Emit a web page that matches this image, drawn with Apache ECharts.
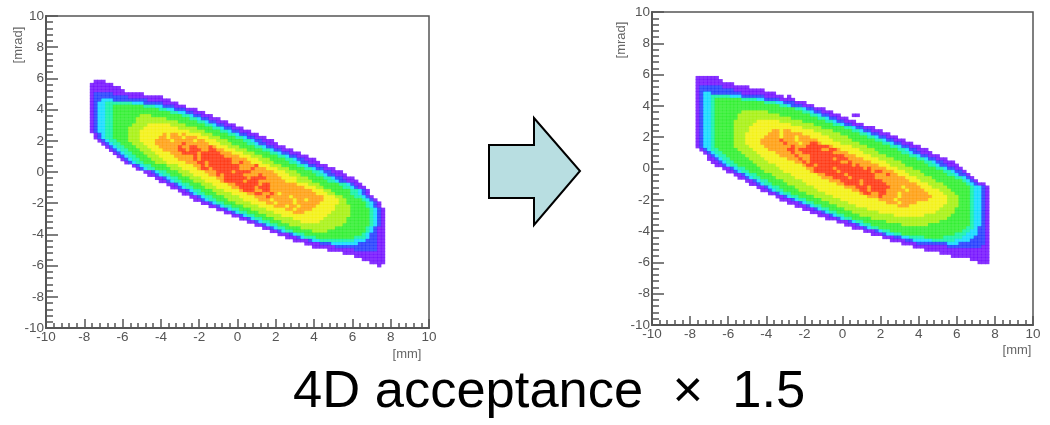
<!DOCTYPE html>
<html>
<head>
<meta charset="utf-8">
<style>
  html, body { margin: 0; padding: 0; background: #fff; }
  #chart { width: 1050px; height: 425px; filter: blur(0.6px); }
</style>
</head>
<body>
<div id="chart"></div>
<script src="https://cdn.jsdelivr.net/npm/echarts@6/dist/echarts.min.js"></script>
<script>
// histogram bins, mm across and mrad down
const xBins = [-7.6,-7.4,-7.2,-7,-6.8,-6.6,-6.4,-6.2,-6,-5.8,-5.6,-5.4,-5.2,-5,-4.8,-4.6,-4.4,-4.2,-4,-3.8,-3.6,-3.4,-3.2,-3,-2.8,-2.6,-2.4,-2.2,-2,-1.8,-1.6,-1.4,-1.2,-1,-0.8,-0.6,-0.4,-0.2,0,0.2,0.4,0.6,0.8,1,1.2,1.4,1.6,1.8,2,2.2,2.4,2.6,2.8,3,3.2,3.4,3.6,3.8,4,4.2,4.4,4.6,4.8,5,5.2,5.4,5.6,5.8,6,6.2,6.4,6.6,6.8,7,7.2,7.4,7.6];
const yBins = [5.8,5.6,5.4,5.2,5,4.8,4.6,4.4,4.2,4,3.8,3.6,3.4,3.2,3,2.8,2.6,2.4,2.2,2,1.8,1.6,1.4,1.2,1,0.8,0.6,0.4,0.2,0,-0.2,-0.4,-0.6,-0.8,-1,-1.2,-1.4,-1.6,-1.8,-2,-2.2,-2.4,-2.6,-2.8,-3,-3.2,-3.4,-3.6,-3.8,-4,-4.2,-4.4,-4.6,-4.8,-5,-5.2,-5.4,-5.6,-5.8,-6];

const ticks = [-10, -8, -6, -4, -2, 0, 2, 4, 6, 8, 10];
const levelColors = ['#6a00ff', '#1430ff', '#00d8ff', '#00f0a0', '#20ee20', '#a0f000', '#f2f000', '#ff9800', '#ff2800'];

// one string per y bin, tokens are <level><count>, level 0 = empty
const rowsBefore = [
  '01 13',
  '16',
  '18',
  '19',
  '11 25 18',
  '11 29 19',
  '11 22 33 29 16',
  '11 21 32 47 33 25 14',
  '11 21 32 42 58 43 32 23 13',
  '11 21 32 42 512 42 32 23 13',
  '11 21 32 42 515 42 32 22 13',
  '11 21 32 42 57 63 58 42 31 22 13',
  '11 21 32 42 56 68 56 42 31 22 13',
  '11 21 32 42 56 611 55 42 31 22 13',
  '11 21 32 42 55 64 76 64 55 42 31 22 13',
  '11 21 32 42 54 64 79 65 54 42 31 22 13',
  '11 21 32 42 54 63 713 64 54 42 31 22 13',
  '01 11 21 31 42 54 63 76 81 71 82 71 81 74 63 54 42 31 22 13',
  '01 11 21 31 42 54 63 75 82 71 83 71 83 73 63 54 42 31 22 13',
  '02 11 21 31 42 53 63 74 84 71 85 71 82 73 63 54 42 31 22 13',
  '03 11 21 31 42 53 63 73 87 91 86 73 63 54 42 31 22 13',
  '04 11 21 31 42 53 63 73 85 91 82 92 83 91 81 73 63 54 42 31 22 13',
  '05 11 21 31 42 53 63 73 84 92 81 93 82 92 82 73 63 54 42 31 22 13',
  '06 11 21 31 42 53 63 74 83 94 81 95 83 73 63 54 42 31 22 13',
  '07 11 21 31 42 53 63 74 85 91 81 96 84 73 63 54 42 31 22 13',
  '08 11 21 31 42 53 63 74 84 91 81 98 84 73 63 54 42 31 22 13',
  '09 11 21 31 42 53 63 75 83 92 81 96 82 91 82 73 63 54 42 31 22 13',
  '011 11 21 31 42 54 63 74 82 91 81 98 84 91 73 63 54 42 31 22 13',
  '012 11 21 31 42 54 63 74 81 92 81 97 83 91 83 73 63 54 42 31 22 13',
  '014 12 21 31 42 53 63 74 83 94 81 94 86 73 63 54 42 31 22 13',
  '015 12 21 31 42 53 63 74 82 91 81 95 84 91 84 73 63 54 42 31 22 13',
  '017 12 21 31 42 53 63 74 82 96 81 94 84 74 63 54 42 31 22 13',
  '018 12 21 31 42 53 63 74 81 95 81 93 87 73 64 54 42 31 22 13',
  '020 12 21 31 42 53 63 74 82 96 81 92 87 73 63 55 42 31 21 12',
  '021 12 21 31 42 53 63 74 82 94 81 93 89 73 62 55 42 31 21 12',
  '023 12 21 31 42 53 63 74 81 93 82 92 811 73 62 55 42 31 21 11',
  '024 12 21 31 42 53 64 74 82 92 82 91 81 71 89 73 62 54 42 31 21 11',
  '026 12 21 31 42 53 64 74 83 91 85 71 88 73 62 53 42 31 21 11',
  '027 12 21 31 42 53 64 74 83 71 85 71 82 71 84 74 62 54 41 31 21 11',
  '029 12 21 31 42 53 64 74 82 71 84 71 86 75 62 55 41 31 21 11',
  '031 12 21 31 42 53 64 74 83 71 82 71 84 75 64 54 41 31 21 11',
  '033 12 21 31 42 53 64 75 82 71 84 76 64 55 41 31 21 11',
  '035 12 21 31 42 53 64 75 83 77 65 55 41 31 21 11',
  '037 12 21 31 42 53 64 712 66 55 41 31 21 11',
  '039 12 21 31 42 53 65 78 66 56 41 31 21 11',
  '041 12 21 31 42 53 65 75 67 56 41 31 21 11',
  '043 12 21 31 42 53 614 57 41 31 21 11',
  '045 12 21 31 42 54 69 58 41 31 21 12',
  '047 12 21 31 42 55 64 510 41 31 21 12',
  '049 13 21 31 42 515 41 31 22 12',
  '051 13 21 31 43 510 43 31 22 12',
  '053 14 21 32 49 33 23 12',
  '056 14 23 37 25 12',
  '058 16 211 12',
  '062 17 26 12',
  '066 111',
  '069 18',
  '071 16',
  '073 14',
  '075 11'
];

const rowsAfter = [
  '16',
  '17',
  '110',
  '11 26 17',
  '11 29 18',
  '11 21 32 28 19',
  '11 21 32 45 33 26 15 01 11',
  '11 21 32 41 57 44 32 24 14',
  '11 21 32 41 513 43 32 23 13',
  '11 21 32 41 517 42 31 23 13',
  '11 21 32 41 521 42 31 22 13',
  '11 21 32 41 57 67 59 42 31 22 13',
  '11 21 32 41 56 611 58 42 31 22 13 03 12',
  '11 21 32 41 56 614 57 42 31 22 13',
  '11 21 32 41 55 66 76 66 56 42 31 22 13',
  '11 21 32 41 55 65 710 66 55 42 31 22 13',
  '11 21 32 41 55 64 714 65 56 42 31 22 13',
  '11 21 32 41 55 64 76 82 71 82 76 65 55 42 31 22 13',
  '11 21 32 41 55 63 76 83 71 85 75 65 55 42 31 22 13',
  '11 21 32 41 55 63 75 84 71 83 71 83 75 65 55 42 31 22 13',
  '11 21 32 41 55 63 74 85 91 83 71 85 74 65 56 42 31 22 13',
  '11 21 32 41 55 63 74 86 91 83 71 82 92 81 75 65 56 42 31 22 13',
  '11 21 32 41 55 64 74 87 91 83 96 81 75 64 56 42 31 22 13',
  '01 11 21 31 42 55 64 74 85 92 81 96 82 92 81 75 64 56 42 31 22 13',
  '02 11 21 31 42 55 64 75 84 91 82 98 84 74 64 56 42 31 22 13',
  '03 11 21 31 42 55 64 75 84 91 83 99 83 74 64 56 42 31 22 13',
  '03 12 21 31 42 55 64 76 83 91 82 96 81 93 84 74 64 56 42 31 22 13',
  '04 12 21 31 42 55 64 77 82 91 81 98 82 91 85 74 64 56 42 31 22 13',
  '05 12 21 31 42 55 65 77 81 92 81 99 81 91 85 73 64 56 42 31 22 13',
  '07 12 21 31 42 54 65 77 82 95 81 97 81 91 84 73 64 56 42 31 22 12',
  '08 12 21 31 42 54 65 77 81 96 81 98 81 92 83 73 64 56 42 31 22 11',
  '010 12 21 31 42 54 65 77 82 95 81 97 83 91 82 73 64 56 42 31 22 11',
  '011 12 21 31 42 54 65 77 83 94 81 96 88 73 64 56 42 31 21 11',
  '013 12 21 31 42 54 65 77 83 95 81 95 87 73 64 57 41 31 21 11',
  '014 12 21 31 42 54 65 78 82 94 81 96 88 73 64 56 41 31 21 12',
  '016 12 21 31 42 54 65 78 83 93 81 95 83 71 84 73 64 56 41 32 21 11',
  '017 12 21 31 42 54 65 79 82 92 81 94 85 71 84 74 63 55 41 32 21 11',
  '019 12 21 31 42 54 65 79 81 92 82 92 83 71 83 84 74 63 54 41 32 21 11',
  '021 12 21 31 42 54 65 79 83 91 84 71 88 74 63 53 41 32 21 11',
  '022 13 21 31 42 54 65 710 84 71 88 75 63 53 41 32 21 11',
  '024 13 21 31 42 54 65 710 83 71 84 78 63 53 41 32 21 11',
  '026 13 21 31 42 54 65 711 83 79 64 53 41 32 21 11',
  '028 13 21 31 42 54 66 719 64 54 41 32 21 11',
  '030 13 21 31 42 54 67 715 65 54 41 32 21 11',
  '032 13 21 31 42 54 69 78 67 55 41 32 21 11',
  '034 13 21 31 42 55 620 56 41 32 21 11',
  '037 13 21 31 42 56 614 58 41 32 21 11',
  '039 13 21 31 42 58 67 511 41 32 21 11',
  '041 13 21 31 42 523 42 31 22 11',
  '044 13 21 31 42 519 42 32 22 11',
  '046 13 21 32 42 514 43 33 22 11',
  '049 13 22 32 44 55 45 33 23 11',
  '051 14 22 35 46 34 24 11',
  '054 14 28 33 27 11',
  '057 19 29 12',
  '060 117',
  '064 113',
  '067 110',
  '072 15',
  '074 13'
];

function cellsFrom(rows) {
  const cells = [];
  rows.forEach((row, r) => {
    let col = 0;
    row.split(' ').forEach(token => {
      const level = +token[0];
      const count = +token.slice(1);
      for (let i = 0; i < count; i++, col++) {
        if (level > 0) cells.push([xBins[col], yBins[r], level]);
      }
    });
  });
  return cells;
}

function xAxisFor(index) {
  return {
    type: 'value', gridIndex: index, min: -10, max: 10, interval: 2,
    axisLine: { onZero: false, lineStyle: { color: '#555', width: 2 } },
    axisTick: { inside: true, length: 9, lineStyle: { color: '#555', width: 1.5 } },
    minorTick: { show: true, splitNumber: 5, length: 5, lineStyle: { color: '#555', width: 1.5 } },
    axisLabel: { margin: 2, fontFamily: 'Liberation Sans', fontSize: 13.5, color: '#555', showMinLabel: true, showMaxLabel: true, hideOverlap: false, customValues: ticks },
    splitLine: { show: false }
  };
}

function yAxisFor(index) {
  return {
    type: 'value', gridIndex: index, min: -10, max: 10, interval: 2,
    axisLine: { onZero: false, lineStyle: { color: '#555', width: 2 } },
    axisTick: { inside: true, length: 12, lineStyle: { color: '#555', width: 1.5 } },
    minorTick: { show: true, splitNumber: 5, length: 7, lineStyle: { color: '#555', width: 1.5 } },
    axisLabel: { margin: 2, fontFamily: 'Liberation Sans', fontSize: 13.5, color: '#555', showMinLabel: true, showMaxLabel: true, hideOverlap: false, customValues: ticks },
    splitLine: { show: false }
  };
}

function histSeries(index, rows, size) {
  return {
    type: 'scatter', xAxisIndex: index, yAxisIndex: index,
    symbol: 'rect', symbolSize: size, data: cellsFrom(rows),
    large: false, progressive: 0, silent: true
  };
}

function unitLabel(text, x, y, rotation) {
  return {
    type: 'text', x: x, y: y, rotation: rotation,
    style: { text: text, fontFamily: 'Liberation Sans', fontSize: 13, fill: '#666', align: 'center', verticalAlign: 'middle' }
  };
}

const chart = echarts.init(document.getElementById('chart'));
chart.setOption({
  animation: false,
  backgroundColor: '#fff',
  title: {
    text: '4D acceptance  \u00d7  1.5', left: 288, top: 361,
    textStyle: { fontFamily: 'Liberation Sans', fontSize: 52.5, fontWeight: 'normal', color: '#000' }
  },
  grid: [
    { left: 46, top: 16, width: 383, height: 312, outerBoundsMode: 'none', show: true, borderColor: '#555', borderWidth: 1.5, backgroundColor: 'transparent' },
    { left: 652, top: 12, width: 381, height: 313, outerBoundsMode: 'none', show: true, borderColor: '#555', borderWidth: 1.5, backgroundColor: 'transparent' }
  ],
  xAxis: [xAxisFor(0), xAxisFor(1)],
  yAxis: [yAxisFor(0), yAxisFor(1)],
  visualMap: {
    show: false, type: 'piecewise', seriesIndex: [0, 1], dimension: 2,
    pieces: levelColors.map((color, i) => ({ value: i + 1, color: color }))
  },
  series: [histSeries(0, rowsBefore, [4.3, 3.6]), histSeries(1, rowsAfter, [4.3, 3.6])],
  graphic: [
    {
      type: 'polygon',
      shape: { points: [[489, 145], [534, 145], [534, 118], [580, 171], [534, 225], [534, 198], [489, 198]] },
      style: { fill: '#b8dee1', stroke: '#000', lineWidth: 2 }
    },
    unitLabel('[mrad]', 18, 45, Math.PI / 2),
    unitLabel('[mrad]', 621, 40, Math.PI / 2),
    unitLabel('[mm]', 407, 354, 0),
    unitLabel('[mm]', 1017, 350, 0)
  ]
});
</script>
</body>
</html>
